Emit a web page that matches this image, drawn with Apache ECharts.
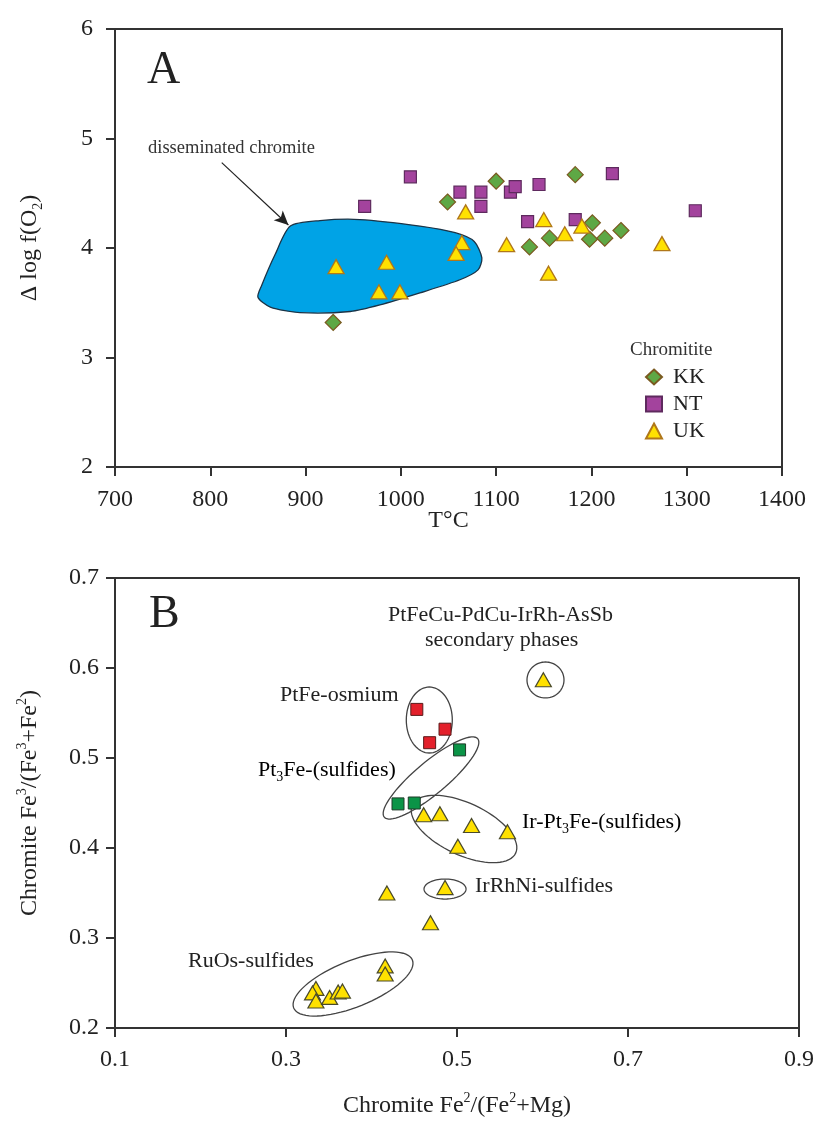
<!DOCTYPE html>
<html>
<head>
<meta charset="utf-8">
<script src="https://cdn.jsdelivr.net/npm/echarts@6/dist/echarts.min.js"></script>
<style>
  html, body { margin: 0; padding: 0; background: #fff; }
  #chart { width: 816px; height: 1122px; }
</style>
</head>
<body>
<div id="chart"></div>
<script>
// ---- panel A : T (deg C) vs delta log f(O2) ----
const kkT  = [929, 1049, 1100, 1183, 1135, 1156, 1198, 1201, 1214, 1231];
const kkO2 = [3.32, 4.42, 4.61, 4.67, 4.01, 4.09, 4.08, 4.23, 4.09, 4.16];
const ntT  = [962, 1010, 1062, 1084, 1084, 1115, 1120, 1133, 1145, 1183, 1222, 1309];
const ntO2 = [4.38, 4.65, 4.51, 4.51, 4.38, 4.51, 4.56, 4.24, 4.58, 4.26, 4.68, 4.34];
const ukT  = [932, 985, 977, 999, 1068, 1064, 1058, 1111, 1150, 1155, 1172, 1190, 1274];
const ukO2 = [3.83, 3.87, 3.60, 3.60, 4.33, 4.05, 3.95, 4.03, 4.26, 3.77, 4.13, 4.20, 4.04];

// outline of the disseminated chromite field
const fieldT  = [884, 915, 957, 1020, 1057, 1077, 1085, 1081, 1062, 1020, 978, 947, 894, 863, 850, 854, 868];
const fieldO2 = [4.20, 4.25, 4.26, 4.20, 4.14, 4.06, 3.91, 3.80, 3.71, 3.59, 3.48, 3.42, 3.41, 3.46, 3.55, 3.66, 3.94];

// ---- panel B : Fe2/(Fe2+Mg) vs Fe3/(Fe3+Fe2) ----
const osmX = [0.453, 0.486, 0.468];
const osmY = [0.554, 0.532, 0.517];
const pt3X = [0.431, 0.450, 0.503];
const pt3Y = [0.449, 0.450, 0.509];
const triX = [0.601, 0.461, 0.480, 0.517, 0.559, 0.501, 0.486, 0.418, 0.469,
              0.335, 0.331, 0.335, 0.351, 0.361, 0.366, 0.416, 0.416];
const triY = [0.587, 0.437, 0.438, 0.425, 0.418, 0.402, 0.356, 0.350, 0.317,
              0.244, 0.239, 0.230, 0.234, 0.240, 0.241, 0.269, 0.260];

// group ellipse centres (data units)
const groupX = [0.6035, 0.4676, 0.4696, 0.5082, 0.486, 0.3784];
const groupY = [0.5867, 0.5422, 0.4778, 0.4211, 0.3544, 0.2489];

const xTicksA = [700, 1400, 100];
const yTicksA = [2, 6, 1];
const xTicksB = [0.1, 0.9, 0.2];
const yTicksB = [0.2, 0.7, 0.1];

// ellipse sizes in px: rx, ry, rotation (deg)
const ellipseShape = [
  [18.5, 18, 0],
  [23, 33, 0],
  [61, 16, -40],
  [57, 26, 25],
  [21, 10, 0],
  [64, 23, -22]
];

const SERIF = 'Liberation Serif';
const INK = '#222';

function pairs(xs, ys) { return xs.map((x, i) => [x, ys[i]]); }

const richBase = {
  a: { fontFamily: SERIF, fontSize: 24, color: INK, lineHeight: 30 },
  p: { fontFamily: SERIF, fontSize: 14, color: INK, lineHeight: 14, verticalAlign: 'top' },
  s: { fontFamily: SERIF, fontSize: 14, color: INK, lineHeight: 14, verticalAlign: 'bottom' }
};
const richNote = {
  a: { fontFamily: SERIF, fontSize: 22, color: INK, lineHeight: 28 },
  s: { fontFamily: SERIF, fontSize: 14, color: INK, lineHeight: 14, verticalAlign: 'bottom' }
};

const axisCommon = {
  axisLine: { lineStyle: { color: '#333', width: 2 } },
  axisTick: { length: 9, lineStyle: { color: '#333', width: 2 } },
  splitLine: { show: false },
  nameMoveOverlap: false
};

var myChart = echarts.init(document.getElementById('chart'));

myChart.setOption({
  backgroundColor: '#fff',
  animation: false,
  grid: [
    { left: 115, top: 29, width: 667, height: 438, show: true, borderColor: '#333', borderWidth: 2,
      containLabel: false, outerBoundsMode: 'none' },
    { left: 115, top: 578, width: 684, height: 450, show: true, borderColor: '#333', borderWidth: 2,
      containLabel: false, outerBoundsMode: 'none' }
  ],
  xAxis: [
    Object.assign({}, axisCommon, {
      gridIndex: 0, type: 'value', min: xTicksA[0], max: xTicksA[1], interval: xTicksA[2],
      name: 'T°C', nameLocation: 'middle', nameGap: 42,
      nameTextStyle: { fontFamily: SERIF, fontSize: 24, color: INK },
      axisLabel: { fontFamily: SERIF, fontSize: 24, color: INK, margin: 21,
        formatter: v => String(v) }
    }),
    Object.assign({}, axisCommon, {
      gridIndex: 1, type: 'value', min: xTicksB[0], max: xTicksB[1], interval: xTicksB[2],
      name: '{a|Chromite Fe}{p|2}{a|/(Fe}{p|2}{a|+Mg)}', nameLocation: 'middle', nameGap: 63,
      nameTextStyle: { rich: richBase },
      axisLabel: { fontFamily: SERIF, fontSize: 24, color: INK, margin: 20,
        formatter: v => v.toFixed(1) }
    })
  ],
  yAxis: [
    Object.assign({}, axisCommon, {
      gridIndex: 0, type: 'value', min: yTicksA[0], max: yTicksA[1], interval: yTicksA[2],
      name: '{a|Δ log f(O}{s|2}{a|)}', nameLocation: 'middle', nameGap: 70,
      nameTextStyle: { rich: richBase },
      axisLabel: { fontFamily: SERIF, fontSize: 24, color: INK, margin: 22 }
    }),
    Object.assign({}, axisCommon, {
      gridIndex: 1, type: 'value', min: yTicksB[0], max: yTicksB[1], interval: yTicksB[2],
      name: '{a|Chromite Fe}{p|3}{a|/(Fe}{p|3}{a|+Fe}{p|2}{a|)}', nameLocation: 'middle', nameGap: 70,
      nameTextStyle: { rich: richBase },
      axisLabel: { fontFamily: SERIF, fontSize: 24, color: INK, margin: 16,
        formatter: v => v.toFixed(1) }
    })
  ],
  legend: {
    data: ['KK', 'NT', 'UK'],
    orient: 'vertical',
    left: 640, top: 361,
    itemWidth: 16, itemHeight: 15, itemGap: 5,
    textStyle: { fontFamily: SERIF, fontSize: 22, color: INK, padding: [0, 0, 0, 6] }
  },
  graphic: [
    { type: 'text', left: 147, top: 48, style: { text: 'A', fontFamily: SERIF, fontSize: 46, fill: INK } },
    { type: 'text', left: 149, top: 592, style: { text: 'B', fontFamily: SERIF, fontSize: 46, fill: INK } },
    { type: 'text', left: 148, top: 139, style: { text: 'disseminated chromite', fontFamily: SERIF, fontSize: 18.5, fill: '#333' } },
    { type: 'text', left: 630, top: 341, style: { text: 'Chromitite', fontFamily: SERIF, fontSize: 19, fill: '#333' } },
    { type: 'text', left: 388, top: 604, style: { text: 'PtFeCu-PdCu-IrRh-AsSb', fontFamily: SERIF, fontSize: 22, fill: INK } },
    { type: 'text', left: 425, top: 629, style: { text: 'secondary phases', fontFamily: SERIF, fontSize: 22, fill: INK } },
    { type: 'text', left: 280, top: 684, style: { text: 'PtFe-osmium', fontFamily: SERIF, fontSize: 22, fill: INK } },
    { type: 'text', left: 258, top: 759, style: { text: '{a|Pt}{s|3}{a|Fe-(sulfides)}', rich: richNote } },
    { type: 'text', left: 522, top: 811, style: { text: '{a|Ir-Pt}{s|3}{a|Fe-(sulfides)}', rich: richNote } },
    { type: 'text', left: 475, top: 875, style: { text: 'IrRhNi-sulfides', fontFamily: SERIF, fontSize: 22, fill: INK } },
    { type: 'text', left: 188, top: 950, style: { text: 'RuOs-sulfides', fontFamily: SERIF, fontSize: 22, fill: INK } }
  ],
  series: [
    {
      name: 'field',
      type: 'custom',
      xAxisIndex: 0, yAxisIndex: 0,
      z: 1,
      silent: true,
      data: [[fieldT[0], fieldO2[0]]],
      renderItem: function (params, api) {
        const pts = fieldT.map((t, i) => api.coord([t, fieldO2[i]]));
        return {
          type: 'polygon',
          shape: { points: pts, smooth: 0.25 },
          style: { fill: '#00a3e6', stroke: '#1b3346', lineWidth: 1.3 }
        };
      },
      markLine: {
        silent: true,
        symbol: ['none', 'arrow'],
        symbolSize: [10, 14],
        label: { show: false },
        lineStyle: { color: '#222', width: 1.2, type: 'solid' },
        data: [[{ coord: [812, 4.78] }, { coord: [882, 4.21] }]]
      }
    },
    {
      name: 'KK', type: 'scatter', xAxisIndex: 0, yAxisIndex: 0, z: 3,
      symbol: 'diamond', symbolSize: 16,
      itemStyle: { color: '#5ea845', borderColor: '#7a5a20', borderWidth: 1.2, opacity: 1 },
      data: pairs(kkT, kkO2)
    },
    {
      name: 'NT', type: 'scatter', xAxisIndex: 0, yAxisIndex: 0, z: 3,
      symbol: 'rect', symbolSize: 12,
      itemStyle: { color: '#a3439d', borderColor: '#5e2a5e', borderWidth: 1.2, opacity: 1 },
      data: pairs(ntT, ntO2)
    },
    {
      name: 'UK', type: 'scatter', xAxisIndex: 0, yAxisIndex: 0, z: 4,
      symbol: 'triangle', symbolSize: [16, 14],
      itemStyle: { color: '#ffe100', borderColor: '#b0771a', borderWidth: 1.3, opacity: 1 },
      data: pairs(ukT, ukO2)
    },
    {
      name: 'groups', type: 'custom', xAxisIndex: 1, yAxisIndex: 1, z: 2,
      silent: true,
      data: groupX.map((x, i) => [x, groupY[i]]),
      renderItem: function (params, api) {
        const c = api.coord([api.value(0), api.value(1)]);
        const [rx, ry, rot] = ellipseShape[params.dataIndex];
        const a = rot * Math.PI / 180;
        const pts = [];
        for (let k = 0; k < 72; k++) {
          const t = k / 72 * Math.PI * 2;
          const ex = rx * Math.cos(t), ey = ry * Math.sin(t);
          pts.push([c[0] + ex * Math.cos(a) - ey * Math.sin(a), c[1] + ex * Math.sin(a) + ey * Math.cos(a)]);
        }
        return {
          type: 'polygon',
          shape: { points: pts },
          style: { fill: 'none', stroke: '#444', lineWidth: 1.3 }
        };
      }
    },
    {
      name: 'PtFe-osmium', type: 'scatter', xAxisIndex: 1, yAxisIndex: 1, z: 3,
      symbol: 'rect', symbolSize: 12,
      itemStyle: { color: '#e3202b', borderColor: '#5a1a1a', borderWidth: 1, opacity: 1 },
      data: pairs(osmX, osmY)
    },
    {
      name: 'Pt3Fe', type: 'scatter', xAxisIndex: 1, yAxisIndex: 1, z: 3,
      symbol: 'rect', symbolSize: 12,
      itemStyle: { color: '#0b9447', borderColor: '#1f3a28', borderWidth: 1, opacity: 1 },
      data: pairs(pt3X, pt3Y)
    },
    {
      name: 'alloy-triangles', type: 'scatter', xAxisIndex: 1, yAxisIndex: 1, z: 4,
      symbol: 'triangle', symbolSize: [16, 14],
      itemStyle: { color: '#ffe100', borderColor: '#4a4a2a', borderWidth: 1.2, opacity: 1 },
      data: pairs(triX, triY)
    }
  ]
});
</script>
</body>
</html>
